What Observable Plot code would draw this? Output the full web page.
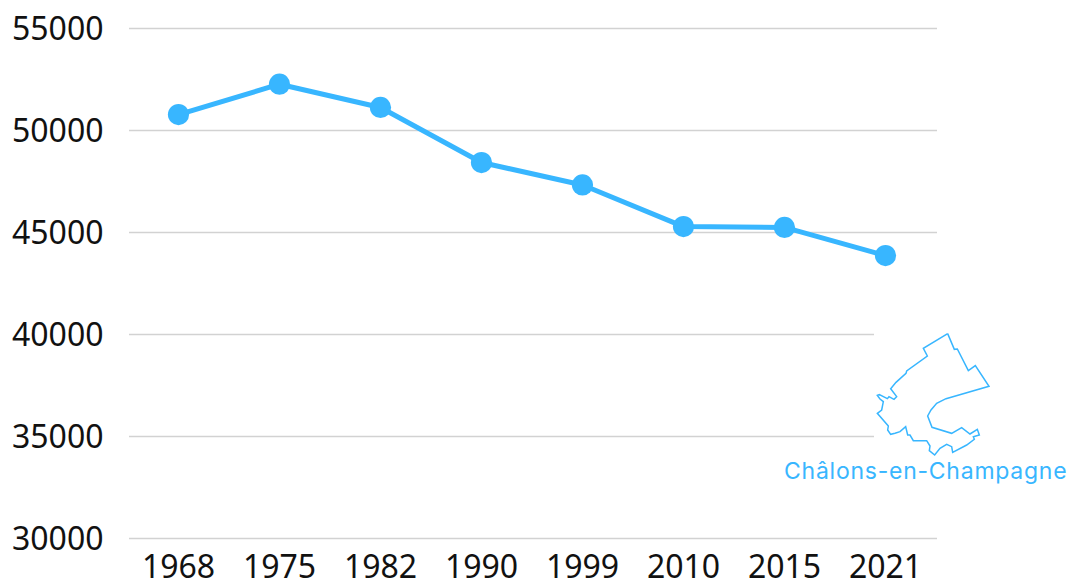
<!DOCTYPE html>
<html>
<head>
<meta charset="utf-8">
<script src="https://cdn.jsdelivr.net/npm/d3@7"></script>
<script src="https://cdn.jsdelivr.net/npm/@observablehq/plot@0.6"></script>
<style>
html,body{margin:0;padding:0;background:#fff}
#wrap{position:relative;width:1070px;height:580px;overflow:hidden}
#wrap>svg{position:absolute;left:0;top:0}
#label{position:absolute;left:784px;top:455px;font:23px "Inter",sans-serif;letter-spacing:0.75px;color:#38b6ff;white-space:nowrap;line-height:32px}
</style>
</head>
<body>
<div id="wrap"></div>
<script>
const years = ["1968","1975","1982","1990","1999","2010","2015","2021"];
const population = [50780,52270,51130,48430,47330,45290,45250,43870];
const yTicks = [30000,35000,40000,45000,50000,55000];
const placeName = "Châlons-en-Champagne";
const color = "#38b6ff";
// commune outline, traced in the picture (decorative map inset)
const outline = [[533,41],[553,88],[562,87],[595,152],[616,137],[657,199],[528,236],[500,250],[483,270],[473,288],[486,322],[545,340],[575,323],[600,342],[622,328],[628,345],[610,350],[613,358],[590,375],[548,397],[545,380],[530,373],[510,385],[494,405],[478,392],[480,378],[470,362],[430,362],[420,345],[413,345],[407,320],[390,335],[375,340],[362,343],[353,330],[355,318],[322,280],[335,270],[340,245],[330,237],[322,226],[328,224],[352,236],[357,230],[372,238],[380,230],[362,206],[378,187],[408,160],[410,153],[472,108],[460,85],[533,41]];

const data = years.map((year,i)=>({year,value:population[i]}));
const chart = Plot.plot({
  width:1070, height:580,
  marginLeft:129, marginRight:133, marginTop:28, marginBottom:42,
  style:{fontFamily:"'Noto Sans',sans-serif",background:"transparent",color:"#111"},
  x:{type:"point",domain:years,padding:0,range:[177.5,885.5],label:null},
  y:{domain:[30000,55000],label:null},
  marks:[
    Plot.ruleY(yTicks,{stroke:"#d2d2d2",strokeWidth:1.3}),
    Plot.axisY({ticks:yTicks,tickSize:0,tickPadding:26,fontSize:32,label:null,dy:1,tickFormat:d=>String(d)}),
    Plot.axisX({tickSize:0,tickPadding:17,fontSize:32,label:null}),
    Plot.line(data,{x:"year",y:"value",stroke:color,strokeWidth:5}),
    Plot.dot(data,{x:"year",y:"value",r:10.6,fill:color})
  ]
});
const wrap=document.getElementById("wrap");
wrap.appendChild(chart);
const ns="http://www.w3.org/2000/svg";
const inset=document.createElementNS(ns,"svg");
inset.setAttribute("width",196);inset.setAttribute("height",160);
inset.setAttribute("viewBox","874 330 196 160");
inset.style.cssText="position:absolute;left:874px;top:330px;background:#fff";
const p=document.createElementNS(ns,"polyline");
p.setAttribute("points",outline.map(([x,y])=>`${770+x/3},${320+y/3}`).join(" "));
p.setAttribute("fill","none");p.setAttribute("stroke",color);p.setAttribute("stroke-width","1.5");
inset.appendChild(p);
wrap.appendChild(inset);
const l=document.createElement("div");l.id="label";l.textContent=placeName;wrap.appendChild(l);
</script>
</body>
</html>
